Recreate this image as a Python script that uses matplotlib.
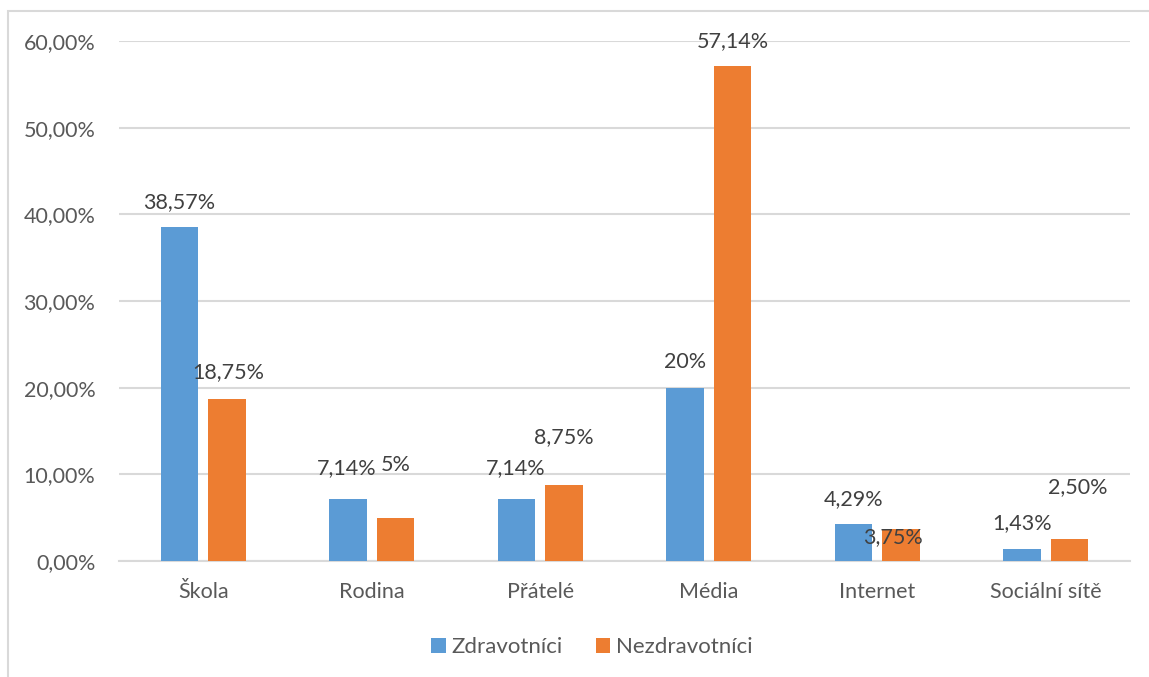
import matplotlib.pyplot as plt
from matplotlib.patches import Rectangle
import numpy as np

categories = ['Škola', 'Rodina', 'Přátelé', 'Média', 'Internet', 'Sociální sítě']
zdravotnici = [38.57, 7.14, 7.14, 20.0, 4.29, 1.43]
nezdravotnici = [18.75, 5.0, 8.75, 57.14, 3.75, 2.50]
labels_z = ['38,57%', '7,14%', '7,14%', '20%', '4,29%', '1,43%']
labels_n = ['18,75%', '5%', '8,75%', '57,14%', '3,75%', '2,50%']
yticks = [0, 10, 20, 30, 40, 50, 60]

# label offsets above bar top, in pixels (x, y)
off_z = [(0, 25), (-1, 31), (-1, 31), (0, 26), (0, 25), (0, 26)]
off_n = [(1, 26), (0, 53), (0, 48), (0, 25), (-8, -9), (8, 52)]

BLUE = '#5B9BD5'
ORANGE = '#ED7D31'
GRID = '#D9D9D9'
TXT = '#595959'
FS = 15.5

plt.rcParams['font.family'] = ['Lato', 'DejaVu Sans']

W, H = 1149, 677
fig = plt.figure(figsize=(W / 100, H / 100), dpi=100)
ax = fig.add_axes([119 / W, 1 - 561 / H, (1130 - 119) / W, (561 - 41) / H])

x = np.arange(len(categories))
bw = 0.223
sep = 0.141
b1 = ax.bar(x - sep, zdravotnici, bw, color=BLUE, label='Zdravotníci', zorder=3)
b2 = ax.bar(x + sep, nezdravotnici, bw, color=ORANGE, label='Nezdravotníci', zorder=3)

px = 0.72  # pixels -> points
for i in range(len(categories)):
    ax.annotate(labels_z[i], (x[i] - sep, zdravotnici[i]),
                xytext=(off_z[i][0] * px, off_z[i][1] * px), textcoords='offset points',
                ha='center', va='center', fontsize=FS, color='#404040', zorder=4)
    ax.annotate(labels_n[i], (x[i] + sep, nezdravotnici[i]),
                xytext=(off_n[i][0] * px, off_n[i][1] * px), textcoords='offset points',
                ha='center', va='center', fontsize=FS, color='#404040', zorder=4)

ax.set_xlim(-0.5, len(categories) - 0.5)
ax.set_ylim(0, 60)
ax.set_yticks(yticks)
ax.set_yticklabels([f'{v},00%' for v in yticks])
ax.set_xticks(x)
ax.set_xticklabels(categories)
ax.tick_params(axis='y', length=0, pad=17, labelsize=FS, labelcolor=TXT)
ax.tick_params(axis='x', length=0, pad=15, labelsize=FS, labelcolor=TXT)
ax.yaxis.grid(True, color=GRID, linewidth=1.5, zorder=0)
ax.set_axisbelow(True)
for s in ['top', 'right', 'left']:
    ax.spines[s].set_visible(False)
ax.spines['bottom'].set_color(GRID)
ax.spines['bottom'].set_linewidth(1.5)

fig.legend(handles=[b1, b2], loc='center', bbox_to_anchor=(592 / W, 1 - 647 / H),
           ncol=2, frameon=False, fontsize=16, labelcolor=TXT,
           handlelength=0.65, handleheight=0.65, handletextpad=0.25, columnspacing=1.5)

fig.patches.append(Rectangle((8 / W, -0.05), 1.2, 1.05 - 11 / H, transform=fig.transFigure,
                             fill=False, edgecolor=GRID, linewidth=1.5))

fig.savefig('out.png', dpi=100)
